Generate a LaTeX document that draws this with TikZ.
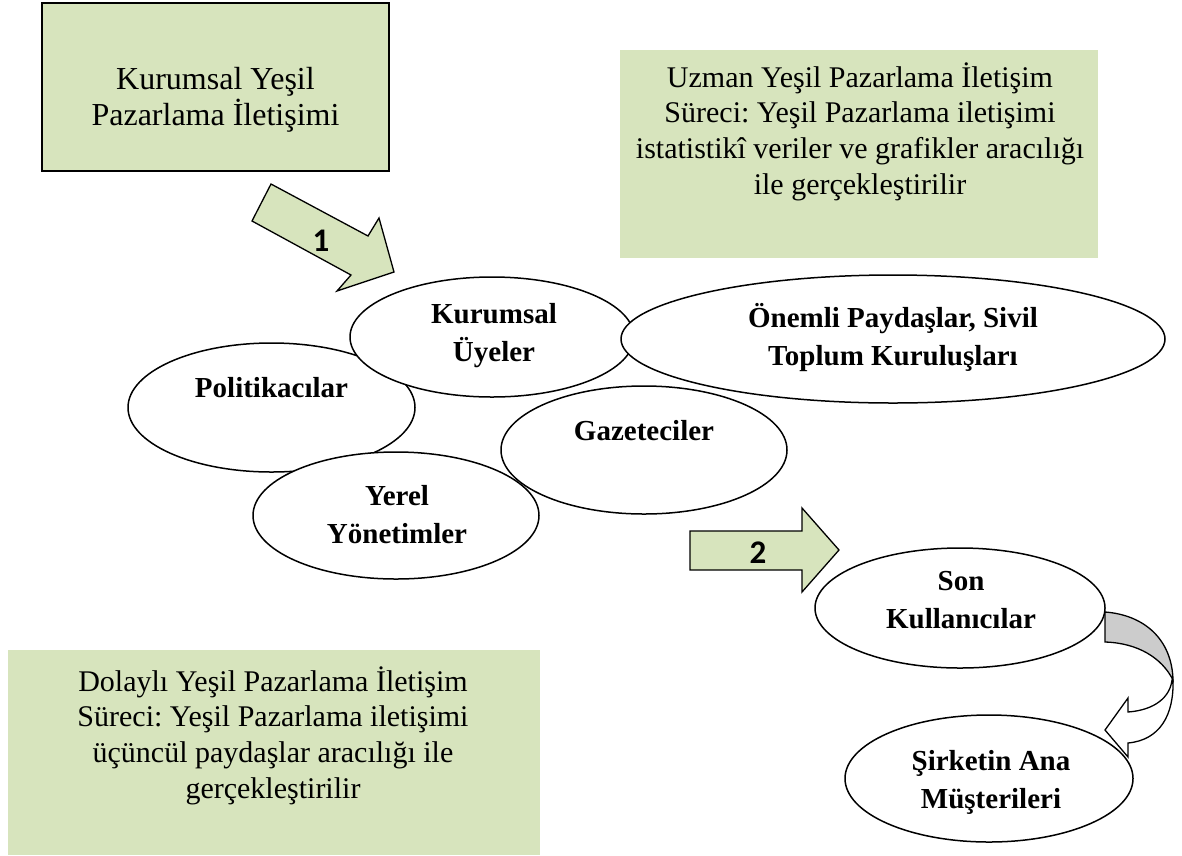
\documentclass[tikz,border=0pt]{standalone}
\usepackage{fontspec}
\setmainfont{Liberation Serif}
\newfontfamily\calibri{Carlito}
\usetikzlibrary{shapes.geometric}
\definecolor{boxgreen}{HTML}{D7E4BD}
\definecolor{arrowgray}{HTML}{CCCCCC}
\frenchspacing
\begin{document}
\begin{tikzpicture}[x=1pt,y=-1pt,
  ell/.style={draw, ellipse, fill=white, line width=1.5pt, inner sep=0pt},
  gbox/.style={fill=boxgreen, inner sep=0pt, rectangle},
  plaintxt/.style={anchor=base, inner sep=0pt, font=\fontsize{30}{35.8}\selectfont},
  bigtxt/.style={anchor=base, inner sep=0pt, font=\fontsize{32}{34}\selectfont},
  boldtxt/.style={anchor=base, inner sep=0pt, font=\fontsize{29}{38}\selectfont\bfseries},
  numtxt/.style={anchor=base, inner sep=0pt, font=\fontsize{33}{34}\selectfont\calibri\bfseries},
  blockarrow/.style={draw, line width=1.3pt, fill=boxgreen, line join=miter},
  curvearrow/.style={draw, line width=1.3pt, line join=miter},
]
\useasboundingbox (0,0) rectangle (1182,855);

% green boxes
\node[gbox, draw, line width=1.5pt, minimum width=347pt, minimum height=168pt] (kb) at (215.5,87) {};
\node[bigtxt] (kbt) at (215.5,89) {\begin{tabular}[t]{@{}c@{}}Kurumsal Yeşil\\ Pazarlama İletişimi\end{tabular}};

\node[gbox, minimum width=478pt, minimum height=208pt] (ub) at (859,154) {};
\node[plaintxt] (ubt) at (860,87) {\begin{tabular}[t]{@{}c@{}}Uzman Yeşil Pazarlama İletişim\\ Süreci: Yeşil Pazarlama iletişimi\\ istatistikî veriler ve grafikler aracılığı\\ ile gerçekleştirilir\end{tabular}};

\node[gbox, minimum width=532pt, minimum height=205pt] (db) at (274,752.5) {};
\node[plaintxt] (dbt) at (273,691) {\begin{tabular}[t]{@{}c@{}}Dolaylı Yeşil Pazarlama İletişim\\ Süreci: Yeşil Pazarlama iletişimi\\ üçüncül paydaşlar aracılığı ile\\ gerçekleştirilir\end{tabular}};

% block arrows
\draw[blockarrow] (271,184) -- (368,236) -- (379,218) -- (394,272) -- (337,291) -- (351,275) -- (252,221) -- cycle;
\node[numtxt] (n1) at (321,251) {1};

% ellipses
\node[ell, minimum width=287pt, minimum height=129pt] (pol) at (271.5,407.5) {};
\node[ell, minimum width=284pt, minimum height=120pt] (kur) at (492,337) {};
\node[ell, minimum width=544pt, minimum height=128pt] (onem) at (893,339) {};
\node[ell, minimum width=286pt, minimum height=127pt] (yer) at (396,515.5) {};
\node[ell, minimum width=286pt, minimum height=128pt] (gaz) at (644,450) {};
\node[ell, minimum width=290pt, minimum height=120pt] (son) at (960,608) {};

\node[boldtxt] (polt) at (271.5,397) {Politikacılar};
\node[boldtxt] (kurt) at (494,323) {\begin{tabular}[t]{@{}c@{}}Kurumsal\\ Üyeler\end{tabular}};
\node[boldtxt] (onemt) at (893,327) {\begin{tabular}[t]{@{}c@{}}Önemli Paydaşlar, Sivil\\ Toplum Kuruluşları\end{tabular}};
\node[boldtxt] (yert) at (397,505) {\begin{tabular}[t]{@{}c@{}}Yerel\\ Yönetimler\end{tabular}};
\node[boldtxt] (gazt) at (644,440) {Gazeteciler};
\node[boldtxt] (sont) at (961,590) {\begin{tabular}[t]{@{}c@{}}Son\\ Kullanıcılar\end{tabular}};

\draw[blockarrow] (690,531) -- (802,531) -- (802,508) -- (839,550) -- (802,592) -- (802,570) -- (690,570) -- cycle;
\node[numtxt] (n2) at (758,563) {2};

% curved arrow
\draw[curvearrow, fill=white] (1172,680) .. controls (1170,697) and (1155,710) .. (1128,712)
  -- (1128,698) -- (1105,730) -- (1128,757) -- (1128,743)
  .. controls (1160,740) and (1174,715) .. (1173,680) -- cycle;
\draw[curvearrow, fill=arrowgray] (1105,612) .. controls (1145,615) and (1172,640) .. (1173,680)
  .. controls (1162,658) and (1138,643) .. (1105,642) -- cycle;

\node[ell, minimum width=288pt, minimum height=127pt] (sirk) at (989,778.5) {};
\node[boldtxt] (sirkt) at (991,770) {\begin{tabular}[t]{@{}c@{}}Şirketin Ana\\ Müşterileri\end{tabular}};
\end{tikzpicture}
\end{document}
